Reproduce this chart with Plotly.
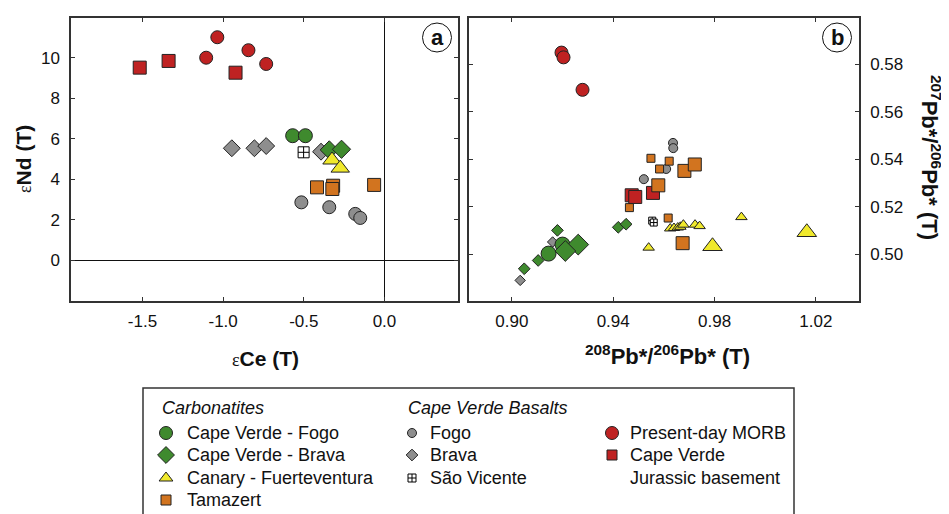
import plotly.graph_objects as go

# the page has an 8px body margin, so the figure is laid out in screen pixels
OX, OY = 8, 8
W, H = 941, 506
FONT = "Liberation Sans, Arial, Helvetica, sans-serif"


def px(x):
    return (x - OX) / W


def py(y):
    return 1 - (y - OY) / H


# colours
RED = "#BF2222"
GREEN = "#3F8A2E"
YELLOW = "#F0E92C"
ORANGE = "#D2741F"
GREY = "#8E8E8E"
EDGE = "#222222"

# ---- panel a: eps Ce (T) vs eps Nd (T) ----
a_morb_ce = [-1.036, -1.105, -0.843, -0.733]
a_morb_nd = [11.01, 10.00, 10.37, 9.69]
a_basement_ce = [-1.517, -1.338, -0.923]
a_basement_nd = [9.51, 9.84, 9.26]
a_fogo_carb_ce = [-0.569, -0.490]
a_fogo_carb_nd = [6.15, 6.15]
a_brava_carb_ce = [-0.342, -0.266]
a_brava_carb_nd = [5.45, 5.48]
a_canary_ce = [-0.325, -0.274]
a_canary_nd = [4.95, 4.55]
a_tamazert_ce = [-0.418, -0.318, -0.323, -0.064]
a_tamazert_nd = [3.60, 3.68, 3.52, 3.72]
a_fogo_bas_ce = [-0.515, -0.342, -0.181, -0.150]
a_fogo_bas_nd = [2.86, 2.62, 2.29, 2.09]
a_brava_bas_ce = [-0.946, -0.806, -0.733, -0.393]
a_brava_bas_nd = [5.53, 5.53, 5.64, 5.36]
a_sv_ce = [-0.501]
a_sv_nd = [5.33]

# ---- panel b: 208Pb*/206Pb* vs 207Pb*/206Pb* ----
b_morb_x = [0.9196, 0.9204, 0.9279]
b_morb_y = [0.5850, 0.5830, 0.5693]
b_basement_x = [0.9473, 0.9487, 0.9557]
b_basement_y = [0.5248, 0.5241, 0.5258]
b_tamazert_small_x = [0.9549, 0.9621, 0.9583, 0.9464, 0.9617]
b_tamazert_small_y = [0.5404, 0.5392, 0.5359, 0.5196, 0.5152]
b_tamazert_large_x = [0.9578, 0.9681, 0.9722, 0.9674]
b_tamazert_large_y = [0.5290, 0.5351, 0.5378, 0.5046]
b_fogo_bas_x = [0.9636, 0.9637, 0.9609, 0.9521]
b_fogo_bas_y = [0.5469, 0.5447, 0.5359, 0.5316]
b_brava_bas_x = [0.9033, 0.9161]
b_brava_bas_y = [0.4889, 0.5051]
b_sv_x = [0.9554, 0.9560]
b_sv_y = [0.5141, 0.5133]
b_canary_small_x = [0.9625, 0.9640, 0.9655, 0.9665, 0.9677, 0.9723, 0.9741, 0.9906, 0.9540]
b_canary_small_y = [0.5108, 0.5110, 0.5112, 0.5115, 0.5124, 0.5124, 0.5118, 0.5156, 0.5027]
b_canary_large_x = [0.9792, 1.0164]
b_canary_large_y = [0.5033, 0.5092]
b_brava_carb_small_x = [0.9180, 0.9104, 0.9049, 0.9420, 0.9451]
b_brava_carb_small_y = [0.5100, 0.4973, 0.4938, 0.5113, 0.5126]
b_brava_carb_large_x = [0.9262, 0.9211]
b_brava_carb_large_y = [0.5040, 0.5013]
b_fogo_carb_x = [0.9200, 0.9145]
b_fogo_carb_y = [0.5040, 0.5002]

fig = go.Figure()


def add_pts(x, y, symbol, color, size, xa="x", ya="y", line_color=EDGE):
    fig.add_trace(go.Scatter(
        x=x, y=y, mode="markers", xaxis=xa, yaxis=ya, showlegend=False,
        hoverinfo="skip",
        marker=dict(symbol=symbol, color=color, size=size,
                    line=dict(color=line_color, width=1)),
    ))


# panel a
add_pts(a_morb_ce, a_morb_nd, "circle", RED, 13)
add_pts(a_basement_ce, a_basement_nd, "square", RED, 13)
add_pts(a_fogo_bas_ce, a_fogo_bas_nd, "circle", GREY, 13)
add_pts(a_brava_bas_ce, a_brava_bas_nd, "diamond", GREY, 13)
add_pts(a_sv_ce, a_sv_nd, "square-cross", "white", 11, line_color="#000")
add_pts(a_fogo_carb_ce, a_fogo_carb_nd, "circle", GREEN, 14)
add_pts(a_brava_carb_ce, a_brava_carb_nd, "diamond", GREEN, 14)
add_pts(a_canary_ce, a_canary_nd, "triangle-up", YELLOW, 16)
add_pts(a_tamazert_ce, a_tamazert_nd, "square", ORANGE, 13)

# panel b
add_pts(b_morb_x, b_morb_y, "circle", RED, 13, "x2", "y2")
add_pts(b_fogo_bas_x, b_fogo_bas_y, "circle", GREY, 9, "x2", "y2")
add_pts(b_brava_bas_x, b_brava_bas_y, "diamond", GREY, 8, "x2", "y2")
add_pts(b_tamazert_small_x, b_tamazert_small_y, "square", ORANGE, 8, "x2", "y2")
add_pts(b_basement_x, b_basement_y, "square", RED, 13, "x2", "y2")
add_pts(b_tamazert_large_x, b_tamazert_large_y, "square", ORANGE, 13, "x2", "y2")
add_pts(b_sv_x, b_sv_y, "square-cross", "white", 7, "x2", "y2", line_color="#000")
add_pts(b_canary_small_x, b_canary_small_y, "triangle-up", YELLOW, 10, "x2", "y2")
add_pts(b_canary_large_x, b_canary_large_y, "triangle-up", YELLOW, 17, "x2", "y2")
add_pts(b_brava_carb_small_x, b_brava_carb_small_y, "diamond", GREEN, 9, "x2", "y2")
add_pts(b_fogo_carb_x, b_fogo_carb_y, "circle", GREEN, 15, "x2", "y2")
add_pts(b_brava_carb_large_x, b_brava_carb_large_y, "diamond", GREEN, 16, "x2", "y2")

# legend drawn on its own axis, scaled in screen pixels
leg_items = [
    # x, y, symbol, colour, size, label, line colour
    (166, 433, "circle", GREEN, 13, "Cape Verde - Fogo", EDGE),
    (166, 455, "diamond", GREEN, 13, "Cape Verde - Brava", EDGE),
    (166, 478, "triangle-up", YELLOW, 12, "Canary - Fuerteventura", EDGE),
    (166, 500, "square", ORANGE, 10, "Tamazert", EDGE),
    (412, 433, "circle", GREY, 9, "Fogo", EDGE),
    (412, 455, "diamond", GREY, 9, "Brava", EDGE),
    (412, 478, "square-cross", "white", 8, "São Vicente", "#000"),
    (612, 433, "circle", RED, 13, "Present-day MORB", EDGE),
    (612, 455, "square", RED, 10, "Cape Verde", EDGE),
]
for lx, ly, sym, col, sz, lab, lc in leg_items:
    add_pts([lx], [ly], sym, col, sz, "x3", "y3", line_color=lc)

LEG_FONT = dict(size=18, color="#111")
annotations = []
for lx, ly, sym, col, sz, lab, lc in leg_items:
    annotations.append(dict(x=lx + (19 if lx < 400 else 16), y=ly, xref="x3", yref="y3",
                            text=lab, showarrow=False, xanchor="left", yanchor="middle",
                            font=LEG_FONT))
annotations.append(dict(x=628, y=478, xref="x3", yref="y3", text="Jurassic basement",
                        showarrow=False, xanchor="left", yanchor="middle", font=LEG_FONT))
annotations.append(dict(x=160, y=408, xref="x3", yref="y3", text="<i>Carbonatites</i>",
                        showarrow=False, xanchor="left", yanchor="middle", font=LEG_FONT))
annotations.append(dict(x=406, y=408, xref="x3", yref="y3", text="<i>Cape Verde Basalts</i>",
                        showarrow=False, xanchor="left", yanchor="middle", font=LEG_FONT))

# axis titles
eps = "<span style='font-family:Liberation Serif;font-weight:normal;font-size:18px'>ε</span>"
TITLE_FONT = dict(size=21, color="#111")
PB_FONT = dict(size=22, color="#111")
annotations += [
    dict(x=px(23), y=py(159), xref="paper", yref="paper", textangle=-90,
         text=eps + "<b>Nd (T)</b>", showarrow=False, font=TITLE_FONT,
         xanchor="center", yanchor="middle"),
    dict(x=px(265), y=py(358), xref="paper", yref="paper",
         text=eps + "<b>Ce (T)</b>", showarrow=False, font=TITLE_FONT,
         xanchor="center", yanchor="middle"),
    dict(x=px(667), y=py(355), xref="paper", yref="paper",
         text="<b><sup>208</sup>Pb*/<sup>206</sup>Pb* (T)</b>", showarrow=False,
         font=PB_FONT, xanchor="center", yanchor="middle"),
    dict(x=px(931), y=py(157), xref="paper", yref="paper", textangle=90,
         text="<b><sup>207</sup>Pb*/<sup>206</sup>Pb* (T)</b>", showarrow=False,
         font=PB_FONT, xanchor="center", yanchor="middle"),
]

# circled panel letters
shapes = []
for cx, letter in [(437, "a"), (837, "b")]:
    shapes.append(dict(type="circle", xref="paper", yref="paper",
                       x0=px(cx - 14.5), x1=px(cx + 14.5),
                       y0=py(52), y1=py(23),
                       line=dict(color="#111", width=1)))
    annotations.append(dict(x=px(cx), y=py(37.5), xref="paper", yref="paper",
                            text="<b>" + letter + "</b>", showarrow=False,
                            xanchor="center", yanchor="middle",
                            font=dict(size=22, color="#111")))

# legend box (bottom edge cut off by the image)
shapes.append(dict(type="rect", xref="paper", yref="paper",
                   x0=px(143), x1=px(794), y0=-0.05, y1=py(388),
                   line=dict(color="#333", width=1.5)))

frame = dict(showline=True, mirror="ticks", linecolor="#333", linewidth=1.5,
             ticks="inside", ticklen=4, tickcolor="#333", showgrid=False,
             tickfont=dict(size=17, color="#111"))

top, bottom = py(18), py(301)

fig.update_layout(
    width=W, height=H,
    margin=dict(l=0, r=0, t=0, b=0),
    paper_bgcolor="white", plot_bgcolor="white",
    font=dict(family=FONT, color="#111"),
    xaxis=dict(frame, domain=[px(71), px(458)], range=[-1.943, 0.456],
               tickvals=[-1.5, -1.0, -0.5, 0.0], ticktext=["-1.5", "-1.0", "-0.5", "0.0"],
               ticklabelstandoff=4,
               zeroline=True, zerolinecolor="#111", zerolinewidth=1, anchor="y"),
    yaxis=dict(frame, domain=[bottom, top], range=[-2.01, 11.96],
               tickvals=[0, 2, 4, 6, 8, 10], ticklabelstandoff=6,
               zeroline=True, zerolinecolor="#111", zerolinewidth=1, anchor="x"),
    xaxis2=dict(frame, domain=[px(469), px(859)], range=[0.8831, 1.037],
                tickvals=[0.90, 0.94, 0.98, 1.02], tickformat=".2f",
                ticklabelstandoff=4, zeroline=False, anchor="y2"),
    yaxis2=dict(frame, domain=[bottom, top], range=[0.4802, 0.5996], side="right",
                tickvals=[0.50, 0.52, 0.54, 0.56, 0.58], tickformat=".2f",
                ticklabelstandoff=6, zeroline=False, anchor="x2"),
    xaxis3=dict(domain=[0, 1], range=[OX, OX + W], visible=False, anchor="y3"),
    yaxis3=dict(domain=[0, py(386)], range=[OY + H, 386], visible=False, anchor="x3"),
    annotations=annotations,
    shapes=shapes,
)

fig.write_html("out.html")
